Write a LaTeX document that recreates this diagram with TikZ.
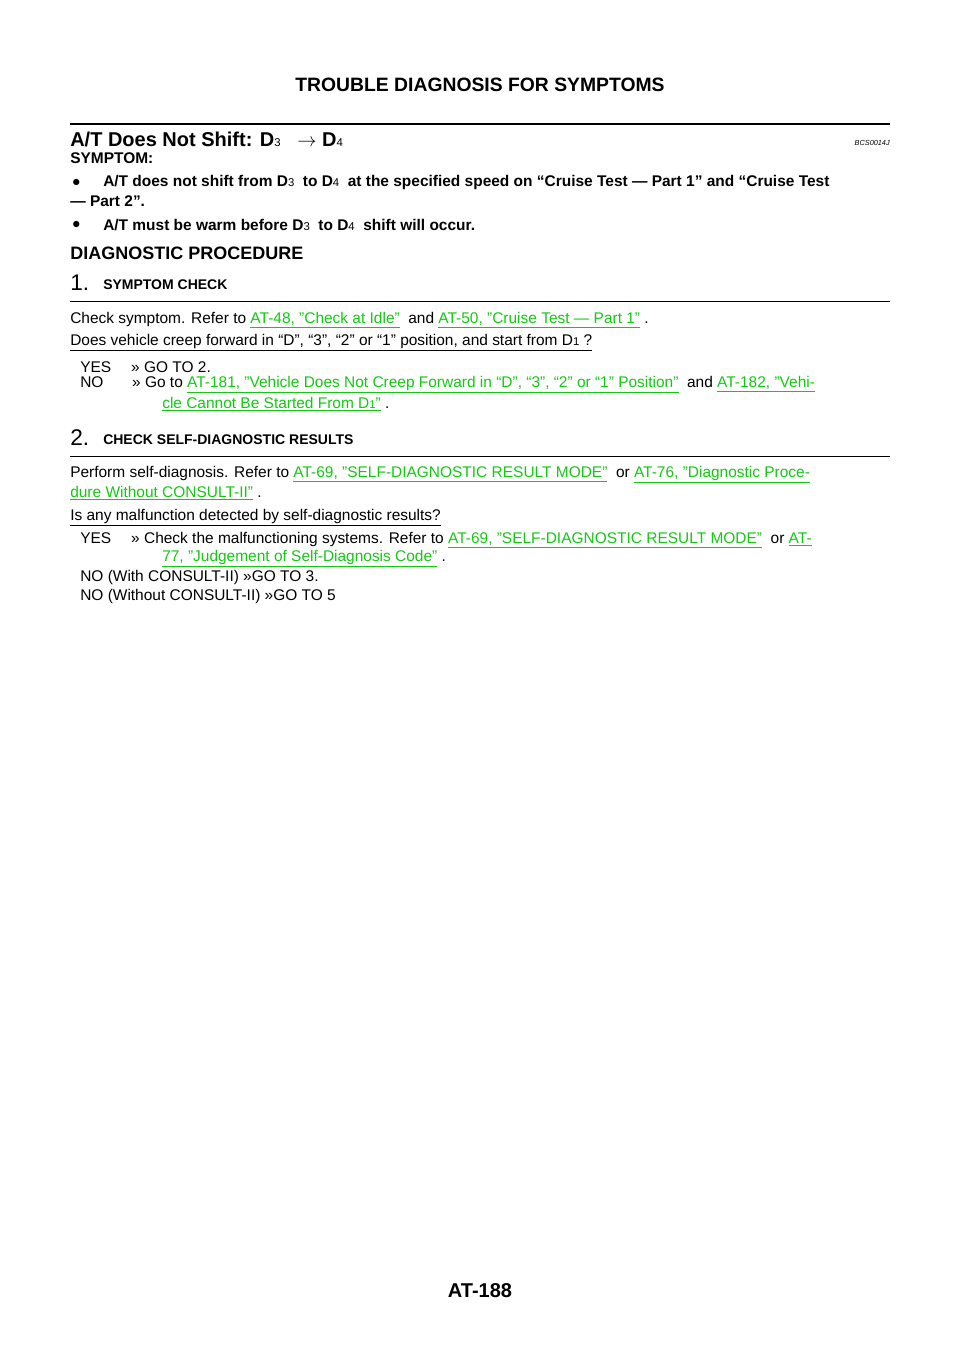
\documentclass[tikz,border=0pt]{standalone}
\usepackage{fontspec}
\setmainfont{Liberation Sans}
\usepackage{tikz}
\usetikzlibrary{positioning}
\definecolor{linkgreen}{RGB}{20,200,20}
\newcommand{\lnk}[1]{{\color{linkgreen}\underline{#1}}}
\newcommand{\sm}[1]{{\fontsize{8.5}{10}\selectfont #1}}
\newcommand{\smb}[1]{{\fontsize{8.5}{10}\selectfont\mdseries #1}}

\begin{document}
\begin{tikzpicture}[
  x=0.75pt, y=-0.75pt,
  txt/.style={anchor=west, inner sep=0pt, font=\fontsize{11.6}{14}\selectfont},
  boldtxt/.style={txt, font=\fontsize{11.6}{14}\selectfont\bfseries},
  heading/.style={anchor=west, inner sep=0pt, font=\fontsize{13.5}{16}\selectfont\bfseries},
  stepnum/.style={anchor=west, inner sep=0pt, font=\fontsize{17}{20}\selectfont},
  stephead/.style={anchor=west, inner sep=0pt, font=\fontsize{10.5}{13}\selectfont\bfseries},
  rulethin/.style={line width=0.6pt},
  rulethick/.style={line width=1.6pt}
]
\useasboundingbox (0,0) rectangle (960,1358);

% Header
\node[inner sep=0pt, font=\fontsize{14.5}{17}\selectfont\bfseries] (title) at (480,85) {TROUBLE DIAGNOSIS FOR SYMPTOMS};
\coordinate (r0a) at (70,124); \coordinate (r0b) at (890,124);
\draw[rulethick] (r0a) -- (r0b);

% Section title
\node[heading, font=\fontsize{15}{18}\selectfont\bfseries] (sec) at (70,139) {A/T Does Not Shift: D\smb{3} \ \ $\rightarrow$ D\smb{4}};
\node[anchor=east, inner sep=0pt, font=\fontsize{5.5}{7}\selectfont\itshape] (code) at (890,143) {BCS0014J};
\node[boldtxt] (symp) at (70,158) {SYMPTOM:};

% Symptoms
\node[txt] (b1) at (72,183) {$\bullet$};
\node[boldtxt] (s1) at (103,183) {A/T does not shift from D\smb{3} \ to D\smb{4} \ at the specified speed on “Cruise Test — Part 1” and “Cruise Test};
\node[boldtxt] (s1b) at (70,201) {— Part 2”.};
\node[txt] (b2) at (72,225) {$\bullet$};
\node[boldtxt] (s2) at (103,225) {A/T must be warm before D\smb{3} \ to D\smb{4} \ shift will occur.};

\node[heading] (diag) at (70,253) {DIAGNOSTIC PROCEDURE};

% Step 1
\node[stepnum] (n1) at (70,283) {1.};
\node[stephead] (h1) at (103,285) {SYMPTOM CHECK};
\coordinate (r1a) at (70,301); \coordinate (r1b) at (890,301);
\draw[rulethin] (r1a) -- (r1b);
\node[txt] (t1) at (70,320) {Check symptom. Refer to \lnk{AT-48, "Check at Idle"} \ and \lnk{AT-50, "Cruise Test — Part 1"} .};
\node[txt] (q1) at (70,343) {\underline{Does vehicle creep forward in “D”, “3”, “2” or “1” position, and start from D\sm{1} ?}};
\node[txt] (y1) at (80,367) {YES\hspace{15pt}>> GO TO 2.};
\node[txt] (no1) at (80,385) {NO\hspace{21.5pt}>> Go to \lnk{AT-181, "Vehicle Does Not Creep Forward in “D”, “3”, “2” or “1” Position"} \ and \lnk{AT-182, "Vehi-}};
\node[txt] (no1b) at (162,404) {\lnk{cle Cannot Be Started From D\sm{1}"} .};

% Step 2
\node[stepnum] (n2) at (70,438) {2.};
\node[stephead] (h2) at (103,440) {CHECK SELF-DIAGNOSTIC RESULTS};
\coordinate (r2a) at (70,456); \coordinate (r2b) at (890,456);
\draw[rulethin] (r2a) -- (r2b);
\node[txt] (t2) at (70,475) {Perform self-diagnosis. Refer to \lnk{AT-69, "SELF-DIAGNOSTIC RESULT MODE"} \ or \lnk{AT-76, "Diagnostic Proce-}};
\node[txt] (t2b) at (70,493) {\lnk{dure Without CONSULT-II"} .};
\node[txt] (q2) at (70,518) {\underline{Is any malfunction detected by self-diagnostic results?}};
\node[txt] (y2) at (80,540) {YES\hspace{15pt}>> Check the malfunctioning systems. Refer to \lnk{AT-69, "SELF-DIAGNOSTIC RESULT MODE"} \ or \lnk{AT-}};
\node[txt] (y2b) at (162,559) {\lnk{77, "Judgement of Self-Diagnosis Code"} .};
\node[txt] (no2) at (80,577) {NO (With CONSULT-II) >>GO TO 3.};
\node[txt] (no2b) at (80,596) {NO (Without CONSULT-II) >>GO TO 5};

% Footer
\node[inner sep=0pt, font=\fontsize{15}{18}\selectfont\bfseries] (page) at (480,1291) {AT-188};
\end{tikzpicture}
\end{document}
